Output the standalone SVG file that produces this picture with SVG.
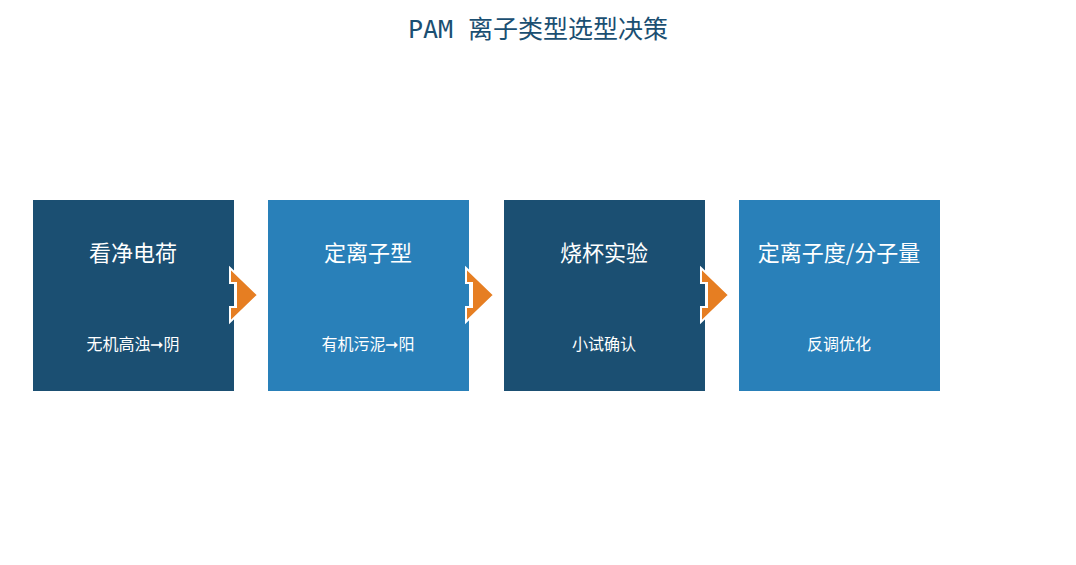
<svg xmlns="http://www.w3.org/2000/svg" width="1076" height="565" viewBox="0 0 1076 565">
<style>
.t{font-family:"DejaVu Sans Mono","Noto Sans CJK SC",monospace;font-size:25px;fill:#1b4f72;text-anchor:middle}
.h{font-family:"Noto Sans CJK SC",sans-serif;font-size:22px;fill:#fff;text-anchor:middle}
.s{font-family:"Noto Sans CJK SC",sans-serif;font-size:16px;fill:#fff;text-anchor:middle}
.d{fill:#1b4f72}.l{fill:#2980b9}
.a{fill:#e67e22;stroke:#fff;stroke-width:2}
</style>
<rect width="1076" height="565" fill="#fff"/>
<text class="t" x="538" y="38">PAM 离子类型选型决策</text>
<g id="n1"><rect class="d" x="33" y="200" width="201" height="191"/><text class="h" x="133" y="261">看净电荷</text><text class="s" x="133" y="350">无机高浊➞阴</text></g>
<g id="n2"><rect class="l" x="268" y="200" width="201" height="191"/><text class="h" x="368" y="261">定离子型</text><text class="s" x="368" y="350">有机污泥➞阳</text></g>
<g id="n3"><rect class="d" x="504" y="200" width="201" height="191"/><text class="h" x="604" y="261">烧杯实验</text><text class="s" x="604" y="350">小试确认</text></g>
<g id="n4"><rect class="l" x="739" y="200" width="201" height="191"/><text class="h" x="839" y="261">定离子度/分子量</text><text class="s" x="839" y="350">反调优化</text></g>
<g id="connectors">
<polygon class="a" points="230,268 258,295 230,322 230,307 236,307 236,283 230,283"/>
<polygon class="a" points="466,268 494,295 466,322 466,307 472,307 472,283 466,283"/>
<polygon class="a" points="701,268 729,295 701,322 701,307 707,307 707,283 701,283"/>
</g>
</svg>
